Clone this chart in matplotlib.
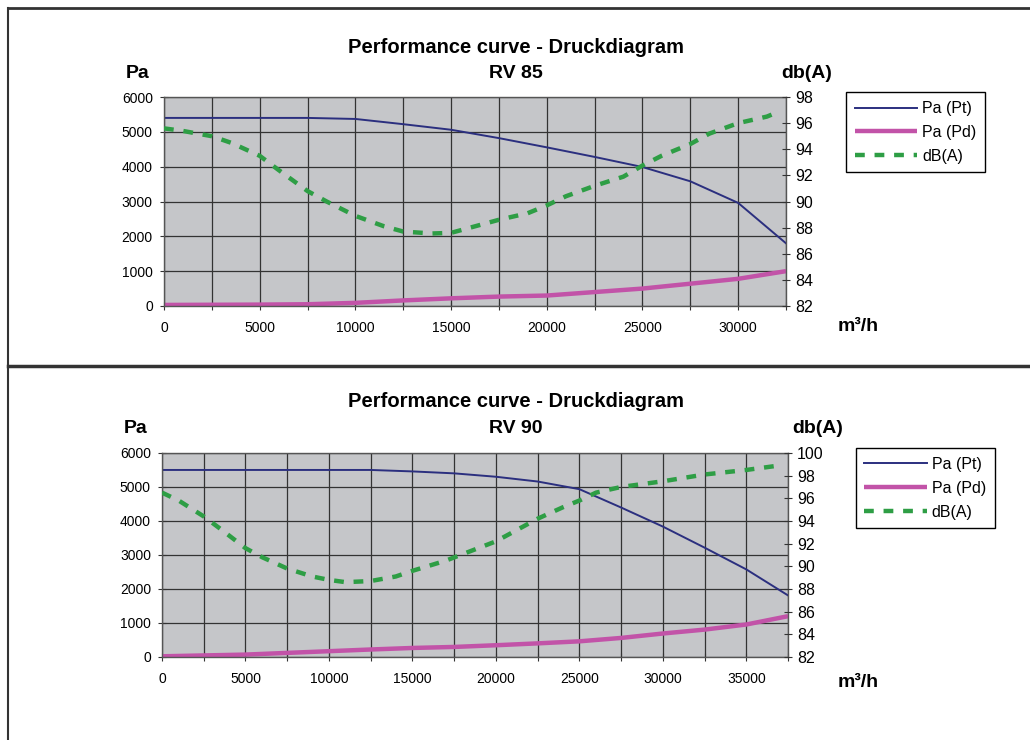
import matplotlib.pyplot as plt
from matplotlib.lines import Line2D

# RV 85 data
rv85_flow = [0, 2500, 5000, 7500, 10000, 12500, 15000, 17500, 20000, 22500, 25000, 27500, 30000, 32500]
rv85_pt = [5400, 5400, 5400, 5400, 5370, 5220, 5060, 4820, 4555, 4280, 3990, 3580, 2960, 1800]
rv85_pd = [30, 35, 40, 50, 90, 160, 220, 270, 300, 400, 500, 640, 780, 1000]
rv85_db_flow = [0, 1000, 2500, 3500, 5000, 6000, 7500, 8500, 10000, 11500, 12500, 14000, 15000,
                16000, 17500, 19000, 20000, 21000, 22500, 24000, 25000, 26000, 27500, 28500,
                30000, 31500, 32000]
rv85_db = [95.6, 95.4, 95.0, 94.5, 93.5, 92.4, 90.8, 90.0, 88.9, 88.1, 87.7, 87.55, 87.6,
           88.0, 88.6, 89.1, 89.7, 90.4, 91.2, 91.9, 92.75, 93.5, 94.4, 95.2, 96.0, 96.5, 96.8]

# RV 90 data
rv90_flow = [0, 2500, 5000, 7500, 10000, 12500, 15000, 17500, 20000, 22500, 25000, 27500,
             30000, 32500, 35000, 37500]
rv90_pt = [5500, 5500, 5500, 5500, 5500, 5500, 5457, 5400, 5300, 5160, 4935, 4395, 3835, 3215, 2575, 1810]
rv90_pd = [20, 45, 70, 120, 170, 220, 265, 295, 345, 400, 460, 560, 690, 805, 955, 1200]
rv90_db_flow = [0, 1000, 2500, 3500, 5000, 6000, 7500, 9000, 10000, 11000, 12500, 14000, 15000,
                17000, 18500, 20000, 22500, 24000, 25000, 26000, 27500, 30000, 32500, 35000, 37000]
rv90_db = [96.5, 95.8, 94.4, 93.3, 91.6, 90.8, 89.8, 89.1, 88.8, 88.6, 88.7, 89.1, 89.6,
           90.5, 91.35, 92.2, 94.2, 95.2, 95.8, 96.5, 97.0, 97.5, 98.1, 98.5, 98.9]

legend_labels = ['Pa (Pt)', 'Pa (Pd)', 'dB(A)']

PT_COLOR = '#2b2f7f'
PD_COLOR = '#c253a8'
DB_COLOR = '#2e9e45'
BG = '#c5c6c9'
SANS = ['Liberation Sans', 'DejaVu Sans']

fig = plt.figure(figsize=(10.3, 7.4), dpi=100)


def draw_chart(rect, name, flow, pt, pd, db_flow, db, xmax, db_lim, title_y, db_x, legend_box, xlab_pos):
    ax = fig.add_axes(rect)
    ax.set_facecolor(BG)
    ax.set_xlim(0, xmax)
    ax.set_ylim(0, 6000)
    xt = list(range(0, xmax + 1, 2500))
    ax.set_xticks(xt)
    ax.set_xticklabels([str(v) if v % 5000 == 0 else '' for v in xt], family=SANS, fontsize=10)
    ax.set_yticks(range(0, 6001, 1000))
    ax.set_yticklabels([str(v) for v in range(0, 6001, 1000)], family=SANS, fontsize=10)
    ax.grid(True, color='#333333', linewidth=0.9)
    ax.set_axisbelow(True)
    ax.tick_params(axis='both', direction='inout', length=6, width=0.8, color='#333333')
    ax.tick_params(axis='x', pad=8)
    ax.tick_params(axis='y', pad=5)
    for s in ax.spines.values():
        s.set_color('#555555')
        s.set_linewidth(1.0)
    l1, = ax.plot(flow, pt, color=PT_COLOR, linewidth=1.4)
    l2, = ax.plot(flow, pd, color=PD_COLOR, linewidth=3.2, solid_capstyle='butt')

    ax2 = ax.twinx()
    ax2.set_ylim(*db_lim)
    db_ticks = list(range(db_lim[0], db_lim[1] + 1, 2))
    ax2.set_yticks(db_ticks)
    ax2.set_yticklabels([str(v) for v in db_ticks], family=SANS, fontsize=11.5)
    ax2.tick_params(axis='y', direction='inout', length=6, width=0.8, color='#333333')
    for s in ax2.spines.values():
        s.set_visible(False)
    l3, = ax2.plot(db_flow, db, color=DB_COLOR, linewidth=3.2, dashes=(2.2, 2.2))

    # titles and axis names
    fig.text(0.501, title_y, 'Performance curve - Druckdiagram', ha='center', va='center',
             fontsize=14.5, fontweight='bold', family=SANS)
    fig.text(0.501, title_y - 0.036, name, ha='center', va='center',
             fontsize=14, fontweight='bold', family=SANS)
    fig.text(rect[0] - 0.026, title_y - 0.036, 'Pa', ha='center', va='center',
             fontsize=14, fontweight='bold', family=SANS)
    fig.text(db_x, title_y - 0.036, 'db(A)', ha='center', va='center',
             fontsize=14, fontweight='bold', family=SANS)
    fig.text(xlab_pos[0], xlab_pos[1], 'm³/h', ha='center', va='center',
             fontsize=14, fontweight='bold', family=SANS)

    leg = fig.legend([l1, l2, l3], legend_labels, loc='upper left',
                     bbox_to_anchor=legend_box, fancybox=False, framealpha=1,
                     edgecolor='black', prop={'family': SANS, 'size': 11.5},
                     handlelength=3.9, handletextpad=0.3, borderpad=0.55, labelspacing=0.55)
    leg.get_frame().set_linewidth(1.0)
    return ax


draw_chart([0.1592, 0.5865, 0.6039, 0.2824], 'RV 85', rv85_flow, rv85_pt, rv85_pd,
           rv85_db_flow, rv85_db, 32500, (82, 98), 0.936, 0.783, (0.814, 0.886), (0.833, 0.559))
draw_chart([0.1573, 0.1122, 0.6078, 0.2757], 'RV 90', rv90_flow, rv90_pt, rv90_pd,
           rv90_db_flow, rv90_db, 37500, (82, 100), 0.457, 0.794, (0.823, 0.405), (0.833, 0.078))

# page frame lines
fig.add_artist(Line2D([0.008, 0.008], [0, 0.989], color='#333333', linewidth=1.5))
fig.add_artist(Line2D([0.008, 1.0], [0.989, 0.989], color='#333333', linewidth=2.0))
fig.add_artist(Line2D([0.008, 1.0], [0.505, 0.505], color='#333333', linewidth=2.5))

fig.savefig('out.png', dpi=100)
